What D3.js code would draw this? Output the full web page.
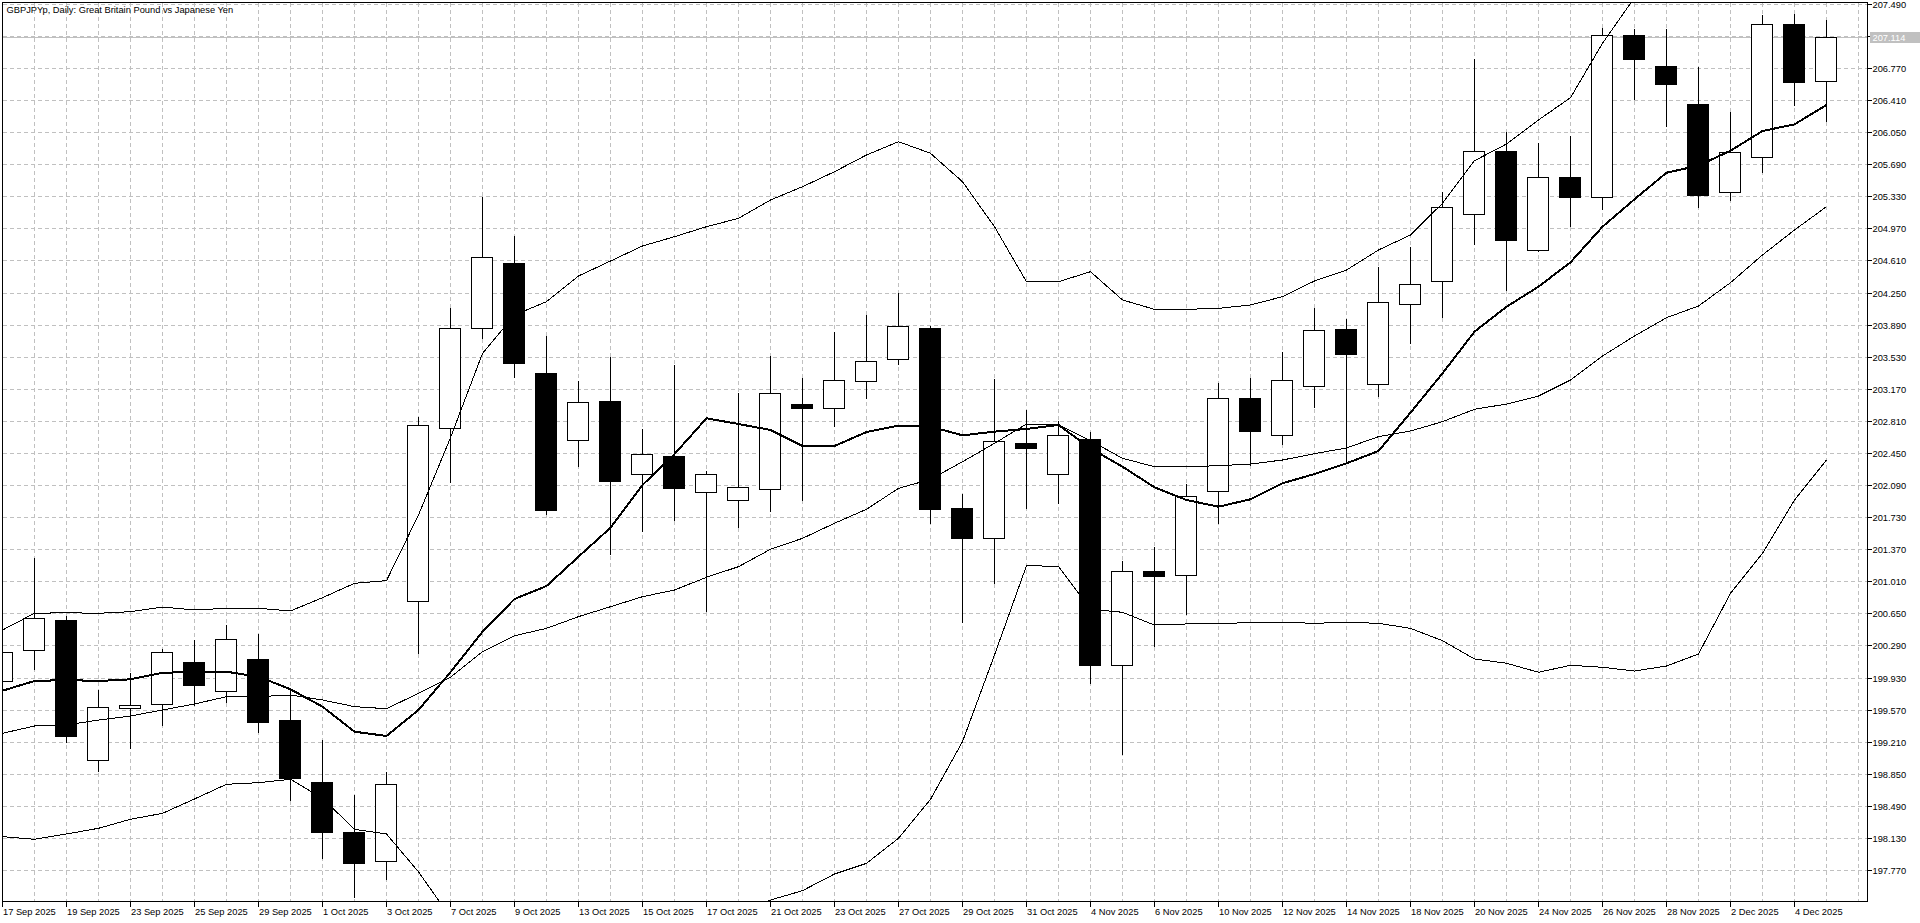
<!DOCTYPE html>
<html>
<head>
<meta charset="utf-8">
<script src="https://cdn.jsdelivr.net/npm/d3@7"></script>
<style>
body { margin: 0; background: #fff; }
svg { display: block; }
text { font-family: "Liberation Sans", Arial, sans-serif; font-size: 9.3px; fill: #000; }
</style>
</head>
<body>
<svg id="chart" width="1920" height="923"></svg>
<script>
var title = "GBPJPYp, Daily:  Great Britain Pound vs Japanese Yen";

var days = ["17 Sep 2025","18 Sep 2025","19 Sep 2025","22 Sep 2025","23 Sep 2025","24 Sep 2025","25 Sep 2025","26 Sep 2025","29 Sep 2025","30 Sep 2025",
  "1 Oct 2025","2 Oct 2025","3 Oct 2025","6 Oct 2025","7 Oct 2025","8 Oct 2025","9 Oct 2025","10 Oct 2025","13 Oct 2025","14 Oct 2025",
  "15 Oct 2025","16 Oct 2025","17 Oct 2025","20 Oct 2025","21 Oct 2025","22 Oct 2025","23 Oct 2025","24 Oct 2025","27 Oct 2025","28 Oct 2025",
  "29 Oct 2025","30 Oct 2025","31 Oct 2025","3 Nov 2025","4 Nov 2025","5 Nov 2025","6 Nov 2025","7 Nov 2025","10 Nov 2025","11 Nov 2025",
  "12 Nov 2025","13 Nov 2025","14 Nov 2025","17 Nov 2025","18 Nov 2025","19 Nov 2025","20 Nov 2025","21 Nov 2025","24 Nov 2025","25 Nov 2025",
  "26 Nov 2025","27 Nov 2025","28 Nov 2025","1 Dec 2025","2 Dec 2025","3 Dec 2025","4 Dec 2025","5 Dec 2025"];

var open = [199.888,200.236,200.576,199.001,199.591,199.629,200.101,199.782,200.134,199.453,
  198.754,198.196,197.868,200.785,202.727,203.849,204.578,203.344,202.595,203.033,
  202.211,202.416,202.009,201.919,202.042,202.996,202.951,203.254,203.501,203.849,
  201.829,201.499,202.558,202.211,202.603,200.071,201.122,201.077,202.020,203.064,
  202.648,203.205,203.838,203.224,204.118,204.376,205.128,205.835,204.728,205.544,
  205.326,207.140,206.793,206.363,205.375,205.768,207.261,206.621];
var high = [200.350,201.275,200.620,199.790,199.977,200.247,200.351,200.519,200.422,199.790,
  199.229,198.612,198.870,202.857,204.073,205.326,204.885,203.763,203.258,203.530,
  202.719,203.437,202.248,203.120,203.538,203.288,203.804,203.998,204.242,203.875,
  201.990,203.280,202.932,202.812,202.682,201.238,201.391,202.098,203.232,203.288,
  203.586,204.073,203.950,204.540,204.765,205.375,206.874,206.049,205.932,206.010,
  207.222,207.204,207.204,206.778,206.276,207.365,207.376,207.309];
var low = [199.750,200.026,199.203,198.881,199.136,199.397,199.618,199.659,199.322,198.556,
  197.908,197.464,197.669,200.209,202.121,203.737,203.306,201.765,202.304,201.316,
  201.574,201.698,200.677,201.623,201.799,201.922,202.756,203.070,203.445,201.661,
  200.553,200.994,201.836,201.885,199.865,199.068,200.284,200.639,201.661,202.315,
  202.551,202.962,202.334,203.089,203.687,203.979,204.795,204.279,204.720,204.997,
  205.191,206.422,206.123,205.207,205.289,205.600,206.355,206.179];
var close = [200.220,200.595,199.277,199.596,199.618,200.213,199.849,200.359,199.434,198.806,
  198.200,197.852,198.732,202.760,203.849,204.653,203.456,201.810,203.025,202.139,
  202.435,202.060,202.211,202.065,203.126,202.951,203.265,203.479,203.871,201.825,
  201.499,202.584,202.502,202.652,200.071,201.122,201.073,201.964,203.064,202.700,
  203.265,203.827,203.557,204.148,204.343,205.207,205.835,204.837,205.544,205.326,
  207.140,206.874,206.587,205.348,205.824,207.261,206.616,207.114];

// thick moving average
var ma = [199.782,199.891,199.902,199.891,199.910,199.984,199.992,199.995,199.939,199.798,
  199.603,199.322,199.274,199.566,199.990,200.444,200.811,200.957,201.286,201.611,
  202.091,202.438,202.839,202.775,202.708,202.528,202.528,202.685,202.756,202.745,
  202.648,202.689,202.719,202.764,202.502,202.296,202.065,201.922,201.847,201.930,
  202.110,202.214,202.334,202.472,202.902,203.344,203.811,204.091,204.316,204.590,
  204.989,205.297,205.595,205.674,205.842,206.063,206.138,206.355];

// bollinger bands
var bbUpper = [200.463,200.651,200.657,200.651,200.669,200.721,200.688,200.707,200.707,200.677,
  200.826,200.987,201.017,201.754,202.622,203.568,203.998,204.148,204.436,204.604,
  204.773,204.877,204.989,205.083,205.289,205.438,205.606,205.794,205.943,205.813,
  205.494,204.989,204.372,204.372,204.484,204.167,204.062,204.062,204.073,204.111,
  204.204,204.380,204.503,204.728,204.896,205.252,205.730,205.917,206.187,206.437,
  207.047,207.560,null,null,null,null,null,null];
var bbMiddle = [199.304,199.386,199.397,199.453,199.498,199.566,199.633,199.715,199.715,199.734,
  199.678,199.603,199.580,199.753,199.933,200.220,200.399,200.482,200.613,200.725,
  200.837,200.912,201.055,201.174,201.369,201.492,201.661,201.818,202.053,202.154,
  202.352,202.558,202.775,202.764,202.588,202.390,202.296,202.296,202.307,202.326,
  202.371,202.442,202.506,202.633,202.697,202.801,202.940,202.999,203.089,203.269,
  203.538,203.763,203.968,204.099,204.361,204.672,204.952,205.214];
var bbLower = [198.144,198.115,198.174,198.238,198.339,198.406,198.567,198.732,198.750,198.788,
  198.575,198.227,198.174,197.749,197.240,null,null,null,null,null,
  null,null,null,197.260,197.433,197.538,197.725,197.845,198.126,198.563,
  199.210,200.183,201.185,201.178,200.696,200.662,200.519,200.531,200.531,200.550,
  200.550,200.538,200.550,200.538,200.482,200.343,200.138,200.090,199.989,200.067,
  200.045,200.003,200.059,200.194,200.875,201.324,201.922,202.371];

var priceTicks = ["207.490","207.130","206.770","206.410","206.050","205.690","205.330","204.970","204.610",
  "204.250","203.890","203.530","203.170","202.810","202.450","202.090","201.730","201.370","201.010",
  "200.650","200.290","199.930","199.570","199.210","198.850","198.490","198.130","197.770"];
var bidPrice = 207.114;

var W = 1920, H = 923;
var plotLeft = 2.5, plotTop = 2.5, plotRight = 1867.5, plotBottom = 901.5;

var svg = d3.select("#chart");

var x = d3.scaleLinear().domain([0, 58]).range([2.3, 2.3 + 32 * 58]);
var y = d3.scaleLinear().domain([197.77, 207.49]).range([870, 3.85]);

function cx(i) { return Math.round(x(i)) + 0.5; }
function cy(p) { return Math.round(y(p)) + 0.5; }

svg.append("rect").attr("width", W).attr("height", H).attr("fill", "#fff");

svg.append("clipPath").attr("id", "plot")
  .append("rect").attr("x", plotLeft).attr("y", plotTop)
  .attr("width", plotRight - plotLeft).attr("height", plotBottom - plotTop);

var grid = svg.append("g").attr("clip-path", "url(#plot)")
  .attr("stroke", "#c0c0c0").attr("stroke-width", 1)
  .attr("stroke-dasharray", "4,3").attr("shape-rendering", "crispEdges");

grid.selectAll(".vgrid")
    .data(d3.range(0, 59))
  .enter().append("line")
    .attr("x1", function(d) { return cx(d); })
    .attr("x2", function(d) { return cx(d); })
    .attr("y1", plotTop).attr("y2", plotBottom);

grid.selectAll(".hgrid")
    .data(priceTicks)
  .enter().append("line")
    .attr("x1", plotLeft).attr("x2", plotRight)
    .attr("y1", function(d) { return cy(+d); })
    .attr("y2", function(d) { return cy(+d); });

// bid line
svg.append("line")
  .attr("x1", plotLeft).attr("x2", plotRight)
  .attr("y1", cy(bidPrice)).attr("y2", cy(bidPrice))
  .attr("stroke", "#c0c0c0").attr("shape-rendering", "crispEdges");

var bars = d3.range(open.length).map(function(i) {
  return { i: i, o: open[i], h: high[i], l: low[i], c: close[i] };
});

var plot = svg.append("g").attr("clip-path", "url(#plot)");

plot.selectAll(".wick")
    .data(bars)
  .enter().append("line")
    .attr("class", "wick")
    .attr("x1", function(d) { return cx(d.i); })
    .attr("x2", function(d) { return cx(d.i); })
    .attr("y1", function(d) { return Math.round(y(d.h)); })
    .attr("y2", function(d) { return Math.round(y(d.l)) + 1; })
    .attr("stroke", "#000")
    .attr("shape-rendering", "crispEdges");

plot.selectAll(".body")
    .data(bars)
  .enter().append("rect")
    .attr("class", "body")
    .attr("x", function(d) { return cx(d.i) - 11; })
    .attr("width", 21)
    .attr("y", function(d) { return cy(Math.max(d.o, d.c)); })
    .attr("height", function(d) { return Math.max(1, cy(Math.min(d.o, d.c)) - cy(Math.max(d.o, d.c))); })
    .attr("fill", function(d) { return d.c >= d.o ? "#fff" : "#000"; })
    .attr("stroke", "#000")
    .attr("shape-rendering", "crispEdges");

function band(values, width) {
  var line = d3.line()
    .defined(function(d) { return d != null; })
    .x(function(d, i) { return cx(i); })
    .y(function(d) { return y(d); });
  plot.append("path")
    .attr("d", line(values))
    .attr("fill", "none")
    .attr("stroke", "#000")
    .attr("stroke-width", width)
    .attr("stroke-linejoin", "round")
    .attr("shape-rendering", "crispEdges");
}

band(bbUpper, 1);
band(bbMiddle, 1);
band(bbLower, 1);
band(ma, 2);

// frame
svg.append("rect")
  .attr("x", plotLeft).attr("y", plotTop)
  .attr("width", plotRight - plotLeft).attr("height", plotBottom - plotTop)
  .attr("fill", "none").attr("stroke", "#000")
  .attr("shape-rendering", "crispEdges");

// price axis
var yAxis = svg.append("g");
yAxis.selectAll(".ytick")
    .data(priceTicks)
  .enter().append("line")
    .attr("x1", plotRight).attr("x2", plotRight + 4)
    .attr("y1", function(d) { return cy(+d); })
    .attr("y2", function(d) { return cy(+d); })
    .attr("stroke", "#000").attr("shape-rendering", "crispEdges");
yAxis.selectAll(".ylabel")
    .data(priceTicks)
  .enter().append("text")
    .attr("x", plotRight + 5)
    .attr("y", function(d) { return cy(+d) + 3.5; })
    .text(function(d) { return d; });

// bid label
svg.append("rect")
  .attr("x", 1870).attr("y", cy(bidPrice) - 5.5)
  .attr("width", 50).attr("height", 11)
  .attr("fill", "#c0c0c0");
svg.append("text")
  .attr("x", plotRight + 5).attr("y", cy(bidPrice) + 3.5)
  .style("fill", "#fff")
  .text(bidPrice.toFixed(3));

// time axis
var labelled = d3.range(0, days.length, 2);
var xAxis = svg.append("g");
xAxis.selectAll(".xtick")
    .data(labelled)
  .enter().append("line")
    .attr("x1", function(d) { return cx(d); })
    .attr("x2", function(d) { return cx(d); })
    .attr("y1", plotBottom).attr("y2", plotBottom + 5)
    .attr("stroke", "#000").attr("shape-rendering", "crispEdges");
xAxis.selectAll(".xlabel")
    .data(labelled)
  .enter().append("text")
    .attr("x", function(d) { return cx(d) + 0.5; })
    .attr("y", 915)
    .text(function(d) { return days[d]; });

svg.append("text")
  .attr("x", 6.5).attr("y", 12.7)
  .text(title);
</script>
</body>
</html>
